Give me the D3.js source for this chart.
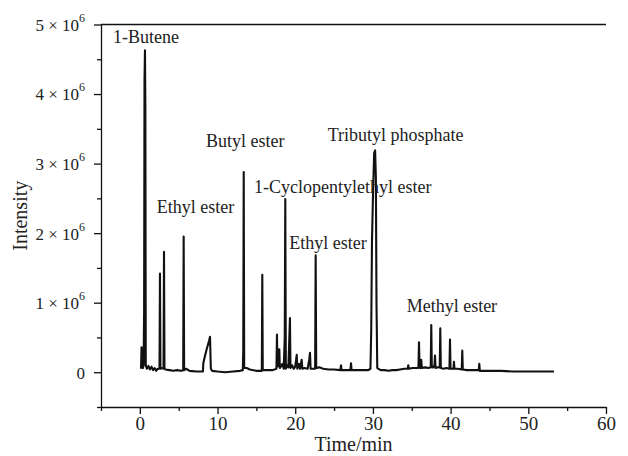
<!DOCTYPE html>
<html>
<head>
<meta charset="utf-8">
<script src="https://cdn.jsdelivr.net/npm/d3@7"></script>
<style>
    body { margin: 0; background: #fff; }
    svg text { font-family: "Liberation Serif", "Times New Roman", serif; fill: #222; }
</style>
</head>
<body>
<svg id="chart" width="628" height="456"></svg>
<script>
// chromatogram trace: [time (min), intensity (10^6)]
const trace = [
    [0.15, 0.05], [0.22, 0.36], [0.28, 0.30], [0.33, 0.08], [0.40, 0.06], [0.48, 0.10], [0.55, 0.85],
    [0.60, 4.20], [0.66, 4.63], [0.71, 3.80], [0.76, 0.10], [0.90, 0.05], [1.10, 0.09], [1.30, 0.04],
    [1.50, 0.08], [1.70, 0.03], [1.90, 0.06], [2.10, 0.02], [2.30, 0.05], [2.53, 0.05], [2.59, 1.42],
    [2.65, 0.05], [2.80, 0.06], [3.05, 0.05], [3.11, 1.73], [3.17, 0.05], [3.30, 0.04], [3.80, 0.03],
    [4.30, 0.02], [4.80, 0.03], [5.30, 0.02], [5.58, 0.03], [5.64, 1.95], [5.70, 0.03], [5.95, 0.05],
    [6.40, 0.02], [7.30, 0.01], [8.12, 0.01], [8.17, 0.13], [8.35, 0.22], [8.60, 0.33], [8.90, 0.45],
    [9.03, 0.51], [9.14, 0.05], [9.30, 0.02], [10.0, 0.01], [11.0, 0.00], [12.0, 0.01], [12.9, 0.02],
    [13.25, 0.03], [13.31, 0.30], [13.37, 2.88], [13.43, 0.06], [13.75, 0.06], [14.15, 0.04], [15.0, 0.02],
    [15.70, 0.02], [15.76, 1.40], [15.82, 0.03], [16.40, 0.03], [17.10, 0.03], [17.58, 0.05], [17.65, 0.54],
    [17.72, 0.08], [17.85, 0.10], [17.95, 0.33], [18.02, 0.06], [18.15, 0.08], [18.35, 0.12], [18.52, 0.05],
    [18.65, 0.50], [18.72, 2.49], [18.79, 0.05], [18.95, 0.10], [19.12, 0.07], [19.32, 0.78], [19.39, 0.06],
    [19.60, 0.10], [19.80, 0.05], [20.00, 0.08], [20.19, 0.25], [20.27, 0.05], [20.50, 0.12], [20.62, 0.05],
    [20.83, 0.18], [20.92, 0.05], [21.20, 0.06], [21.60, 0.05], [21.80, 0.18], [21.90, 0.28], [21.98, 0.05],
    [22.25, 0.05], [22.56, 0.05], [22.63, 1.68], [22.70, 0.06], [23.10, 0.07], [23.60, 0.05], [24.30, 0.04],
    [25.00, 0.04], [25.81, 0.03], [25.89, 0.10], [25.96, 0.03], [26.60, 0.03], [27.10, 0.03], [27.18, 0.13],
    [27.25, 0.03], [27.90, 0.03], [28.70, 0.03], [29.40, 0.03], [29.68, 0.05], [29.78, 0.60], [29.88, 1.90],
    [30.02, 2.60], [30.16, 3.15], [30.28, 3.19], [30.38, 2.80], [30.46, 1.00], [30.56, 0.06], [31.0, 0.03],
    [31.5, 0.03], [32.0, 0.02], [32.5, 0.03], [33.0, 0.03], [33.5, 0.04], [34.0, 0.05], [34.48, 0.05],
    [34.55, 0.10], [34.62, 0.05], [35.10, 0.06], [35.60, 0.06], [35.86, 0.06], [35.93, 0.43], [36.00, 0.07],
    [36.14, 0.06], [36.22, 0.18], [36.30, 0.06], [36.75, 0.07], [37.15, 0.06], [37.44, 0.07], [37.51, 0.68],
    [37.58, 0.07], [37.78, 0.07], [37.92, 0.10], [37.99, 0.24], [38.06, 0.06], [38.35, 0.07], [38.60, 0.07],
    [38.67, 0.63], [38.74, 0.06], [39.10, 0.05], [39.45, 0.06], [39.85, 0.05], [39.92, 0.47], [39.99, 0.05],
    [40.36, 0.05], [40.43, 0.15], [40.50, 0.05], [40.90, 0.05], [41.43, 0.04], [41.50, 0.31], [41.57, 0.04],
    [42.10, 0.03], [42.90, 0.03], [43.62, 0.03], [43.69, 0.12], [43.76, 0.02], [45.0, 0.02], [46.5, 0.02],
    [48.0, 0.01], [49.5, 0.01], [51.5, 0.01], [53.3, 0.01]
];

// compound labels: text, anchor time, anchor intensity (10^6)
const labelText = ["1-Butene", "Ethyl ester", "Butyl ester", "1-Cyclopentylethyl ester", "Ethyl ester", "Tributyl phosphate", "Methyl ester"];
const labelTime = [-3.46, 2.17, 8.51, 14.69, 19.23, 24.18, 34.34];
const labelIntensity = [4.73, 2.29, 3.24, 2.58, 1.77, 3.32, 0.87];

const xMajorTicks = [0, 10, 20, 30, 40, 50, 60];
const xMinorTicks = [-5, 5, 15, 25, 35, 45, 55];
const yMajorTicks = [0, 1, 2, 3, 4, 5];
const yMinorTicks = [-0.5, 0.5, 1.5, 2.5, 3.5, 4.5];

const serif = '"Liberation Serif", "Times New Roman", serif';
const svg = d3.select("#chart");
const margin = { top: 24.5, right: 22, bottom: 49, left: 101 };
const width = 628, height = 456;

const x = d3.scaleLinear().domain([-5, 60]).range([margin.left, width - margin.right]);
const y = d3.scaleLinear().domain([-0.5, 5]).range([height - margin.bottom, margin.top]);

// minor ticks
svg.append("g")
    .attr("transform", `translate(0,${y(-0.5)})`)
    .call(d3.axisBottom(x).tickValues(xMinorTicks).tickSize(4).tickFormat(""))
    .call(g => g.select(".domain").remove());

svg.append("g")
    .attr("transform", `translate(${x(-5)},0)`)
    .call(d3.axisLeft(y).tickValues(yMinorTicks).tickSize(4).tickFormat(""))
    .call(g => g.select(".domain").remove());

// major ticks + labels
let xAxis = svg.append("g")
    .attr("transform", `translate(0,${y(-0.5)})`)
    .attr("font-family", serif)
    .call(d3.axisBottom(x).tickValues(xMajorTicks).tickSize(7).tickSizeOuter(0).tickPadding(3));
xAxis.selectAll("text").attr("font-size", 19).attr("font-family", serif);

let yAxis = svg.append("g")
    .attr("transform", `translate(${x(-5)},0)`)
    .attr("font-family", serif)
    .call(d3.axisLeft(y).tickValues(yMajorTicks).tickSize(7).tickSizeOuter(0).tickPadding(9).tickFormat(""));

yAxis.selectAll(".tick text").each(function (d) {
    let t = d3.select(this).attr("font-size", 17).attr("font-family", serif).attr("dy", "0.35em");
    if (d === 0) {
        t.text("0");
        return;
    }
    t.append("tspan").text(d + " \u00d7 10");
    t.append("tspan").attr("font-size", 12).attr("dy", "-0.75em").text("6");
});

svg.selectAll(".domain, .tick line").attr("stroke", "#111").attr("stroke-width", 1.3);

// top frame line
svg.append("line")
    .attr("x1", x(-5)).attr("x2", x(60))
    .attr("y1", y(5)).attr("y2", y(5))
    .attr("stroke", "#111").attr("stroke-width", 1.3);

// trace
svg.append("path")
    .datum(trace)
    .attr("fill", "none")
    .attr("stroke", "#111")
    .attr("stroke-width", 2.1)
    .attr("stroke-linejoin", "round")
    .attr("d", d3.line().x(d => x(d[0])).y(d => y(d[1])));

svg.selectAll(".peak-label")
    .data(labelText)
    .enter()
    .append("text")
    .attr("class", "peak-label")
    .attr("x", (d, i) => x(labelTime[i]))
    .attr("y", (d, i) => y(labelIntensity[i]))
    .attr("font-size", 18)
    .text(d => d);

// axis titles
svg.append("text")
    .attr("x", (x(-5) + x(60)) / 2)
    .attr("y", 451)
    .attr("text-anchor", "middle")
    .attr("font-size", 20)
    .text("Time/min");

svg.append("text")
    .attr("transform", `translate(27,${(y(-0.5) + y(5)) / 2}) rotate(-90)`)
    .attr("text-anchor", "middle")
    .attr("font-size", 20)
    .text("Intensity");
</script>
</body>
</html>
